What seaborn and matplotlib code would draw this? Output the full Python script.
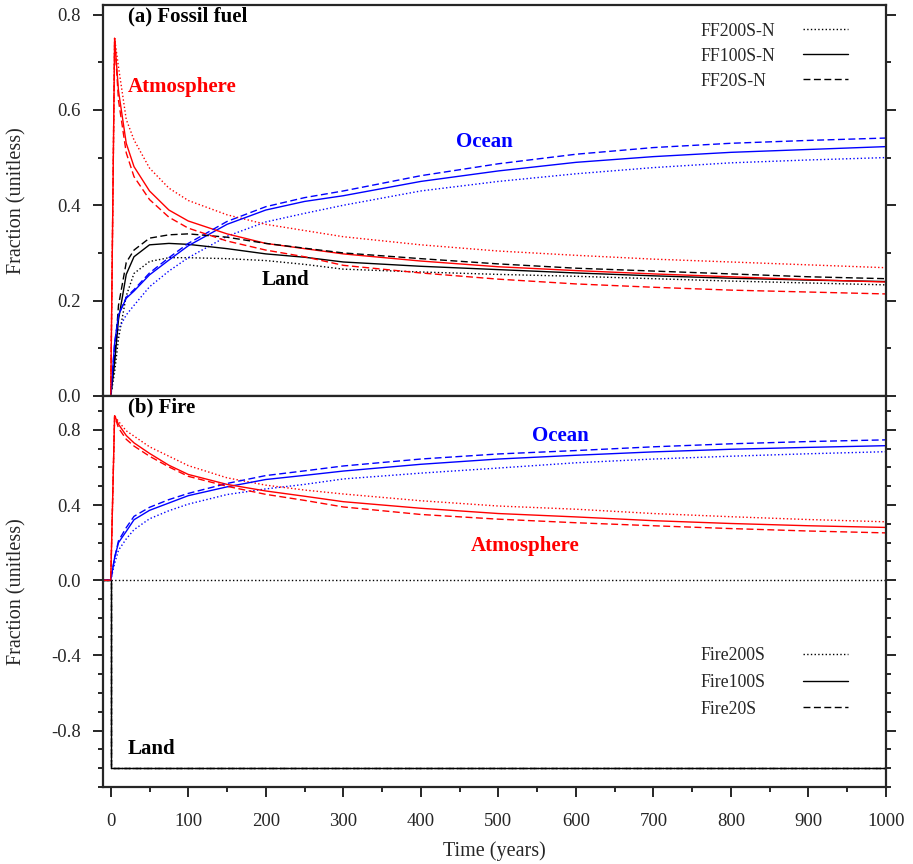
import matplotlib
matplotlib.use("Agg")
import matplotlib.pyplot as plt
import seaborn as sns
from matplotlib.lines import Line2D
from matplotlib.ticker import MultipleLocator, FormatStrFormatter

years = [-10, 0, 5, 10, 20, 30, 50, 75, 100, 150, 200, 250, 300, 400, 500, 600, 700, 800, 900, 1000]

# (a) fossil fuel pulse
ff200_atm = [0, 0, 0.75, 0.69, 0.58, 0.537, 0.478, 0.436, 0.41, 0.38, 0.36, 0.347, 0.334, 0.317, 0.304, 0.295, 0.287, 0.281, 0.275, 0.269]
ff100_atm = [0, 0, 0.75, 0.64, 0.53, 0.481, 0.43, 0.39, 0.367, 0.34, 0.32, 0.309, 0.298, 0.283, 0.271, 0.263, 0.256, 0.25, 0.244, 0.239]
ff20_atm = [0, 0, 0.75, 0.62, 0.51, 0.46, 0.412, 0.375, 0.352, 0.325, 0.306, 0.292, 0.274, 0.258, 0.245, 0.235, 0.228, 0.222, 0.218, 0.214]
ff200_ocn = [0, 0, 0.08, 0.14, 0.17, 0.19, 0.229, 0.262, 0.29, 0.335, 0.365, 0.383, 0.40, 0.43, 0.45, 0.466, 0.479, 0.489, 0.495, 0.50]
ff100_ocn = [0, 0, 0.11, 0.17, 0.205, 0.22, 0.254, 0.285, 0.315, 0.36, 0.39, 0.408, 0.42, 0.45, 0.472, 0.49, 0.502, 0.511, 0.517, 0.523]
ff20_ocn = [0, 0, 0.11, 0.17, 0.207, 0.223, 0.258, 0.29, 0.32, 0.366, 0.397, 0.416, 0.43, 0.462, 0.487, 0.507, 0.521, 0.53, 0.536, 0.541]
ff200_lnd = [0, 0, 0.05, 0.12, 0.21, 0.257, 0.282, 0.29, 0.29, 0.288, 0.284, 0.276, 0.266, 0.26, 0.255, 0.251, 0.246, 0.241, 0.237, 0.233]
ff100_lnd = [0, 0, 0.07, 0.16, 0.255, 0.292, 0.317, 0.32, 0.318, 0.309, 0.298, 0.291, 0.281, 0.272, 0.265, 0.258, 0.252, 0.247, 0.243, 0.24]
ff20_lnd = [0, 0, 0.08, 0.19, 0.28, 0.306, 0.331, 0.338, 0.34, 0.333, 0.32, 0.31, 0.30, 0.288, 0.277, 0.268, 0.262, 0.256, 0.25, 0.246]

# (b) fire pulse
fire200_atm = [0, 0, 0.875, 0.845, 0.795, 0.767, 0.71, 0.66, 0.61, 0.545, 0.506, 0.48, 0.459, 0.423, 0.395, 0.378, 0.355, 0.338, 0.323, 0.311]
fire100_atm = [0, 0, 0.875, 0.83, 0.77, 0.731, 0.675, 0.612, 0.563, 0.51, 0.475, 0.447, 0.418, 0.383, 0.355, 0.337, 0.317, 0.302, 0.29, 0.281]
fire20_atm = [0, 0, 0.875, 0.81, 0.75, 0.714, 0.66, 0.603, 0.553, 0.5, 0.457, 0.425, 0.39, 0.35, 0.325, 0.306, 0.29, 0.275, 0.262, 0.252]
fire200_ocn = [0, 0, 0.09, 0.16, 0.22, 0.269, 0.327, 0.37, 0.405, 0.456, 0.486, 0.51, 0.539, 0.57, 0.597, 0.625, 0.645, 0.66, 0.673, 0.684]
fire100_ocn = [0, 0, 0.12, 0.2, 0.26, 0.322, 0.372, 0.411, 0.45, 0.497, 0.536, 0.558, 0.581, 0.617, 0.645, 0.665, 0.683, 0.697, 0.707, 0.716]
fire20_ocn = [0, 0, 0.12, 0.21, 0.28, 0.34, 0.388, 0.429, 0.462, 0.515, 0.557, 0.582, 0.608, 0.645, 0.672, 0.69, 0.71, 0.726, 0.738, 0.747]
fire_lnd = [0, -1, -1, -1, -1, -1, -1, -1, -1, -1, -1, -1, -1, -1, -1, -1, -1, -1, -1, -1]

ff_labels = ["FF200S-N", "FF100S-N", "FF20S-N"]
fire_labels = ["Fire200S", "Fire100S", "Fire20S"]

sns.set_style("ticks")
plt.rcParams["font.family"] = ["Liberation Serif", "DejaVu Serif"]
plt.rcParams["axes.unicode_minus"] = False

RED = "#ff0000"
BLUE = "#0000ff"
styles = [":", "-", (0, (5, 2.5))]
lw = 1.0

fig = plt.figure(figsize=(9.13, 8.64), dpi=100)
ax1 = fig.add_axes([0.1128, 0.5417, 0.8576, 0.4525])
ax2 = fig.add_axes([0.1128, 0.0891, 0.8576, 0.4525], sharex=ax1)

for ls, atm, ocn, lnd in zip(styles, [ff200_atm, ff100_atm, ff20_atm],
                             [ff200_ocn, ff100_ocn, ff20_ocn],
                             [ff200_lnd, ff100_lnd, ff20_lnd]):
    sns.lineplot(x=years, y=lnd, ax=ax1, color="black", linestyle=ls, linewidth=lw)
    sns.lineplot(x=years, y=ocn, ax=ax1, color=BLUE, linestyle=ls, linewidth=lw)
    sns.lineplot(x=years, y=atm, ax=ax1, color=RED, linestyle=ls, linewidth=lw)

ax2.hlines(0, 0, 1000, colors="black", linestyles=":", linewidth=lw)
for ls, atm, ocn in zip(styles, [fire200_atm, fire100_atm, fire20_atm],
                        [fire200_ocn, fire100_ocn, fire20_ocn]):
    sns.lineplot(x=years, y=fire_lnd, ax=ax2, color="black", linestyle=ls,
                 linewidth=lw, drawstyle="steps-post")
    sns.lineplot(x=years, y=ocn, ax=ax2, color=BLUE, linestyle=ls, linewidth=lw)
    sns.lineplot(x=years, y=atm, ax=ax2, color=RED, linestyle=ls, linewidth=lw)

ax1.set_xlim(-10, 1000)
ax1.set_ylim(0, 0.82)
ax2.set_ylim(-1.1, 0.98)

ax1.yaxis.set_major_locator(MultipleLocator(0.2))
ax1.yaxis.set_minor_locator(MultipleLocator(0.1))
ax2.yaxis.set_major_locator(MultipleLocator(0.4))
ax2.yaxis.set_minor_locator(MultipleLocator(0.1))
ax2.xaxis.set_major_locator(MultipleLocator(100))
ax2.xaxis.set_minor_locator(MultipleLocator(50))
ax1.yaxis.set_major_formatter(FormatStrFormatter("%.1f"))
ax2.yaxis.set_major_formatter(FormatStrFormatter("%.1f"))

for ax in (ax1, ax2):
    for sp in ax.spines.values():
        sp.set_linewidth(1.6)
        sp.set_visible(True)
    ax.tick_params(axis="y", which="both", left=True, right=True, direction="out",
                   width=1.4, labelsize=13.5, pad=9)
    ax.tick_params(axis="y", which="major", length=7)
    ax.tick_params(axis="y", which="minor", length=3.5)
    ax.set_ylabel("Fraction (unitless)", fontsize=14.5)
    ax.yaxis.set_label_coords(-0.098, 0.5)

ax1.tick_params(axis="x", which="both", bottom=False, labelbottom=False)
ax2.tick_params(axis="x", which="both", bottom=True, direction="out", width=1.4,
                labelsize=13.5, pad=12)
ax2.tick_params(axis="x", which="major", length=7)
ax2.tick_params(axis="x", which="minor", length=3.5)
ax2.set_xlabel("Time (years)", fontsize=14.5, labelpad=8)

bold = dict(fontsize=15, fontweight="bold", ha="left", va="center")
ax1.text(22, 0.796, "(a) Fossil fuel", color="black", **bold)
ax1.text(22, 0.647, "Atmosphere", color=RED, **bold)
ax1.text(445, 0.533, "Ocean", color=BLUE, **bold)
ax1.text(194, 0.244, "Land", color="black", **bold)
ax2.text(22, 0.917, "(b) Fire", color="black", **bold)
ax2.text(543, 0.768, "Ocean", color=BLUE, **bold)
ax2.text(465, 0.181, "Atmosphere", color=RED, **bold)
ax2.text(22, -0.896, "Land", color="black", **bold)

# legend: left-aligned names, line samples in a separate column on the right
for ax, labels, top, spacing in ((ax1, ff_labels, 0.955, 0.45), (ax2, fire_labels, 0.358, 0.55)):
    keys = [Line2D([], [], color="black", linestyle=ls, linewidth=lw) for ls in styles]
    blanks = [Line2D([], [], linestyle="none") for _ in styles]
    names = ax.legend(blanks, labels, loc="upper left", bbox_to_anchor=(0.7625, top),
                      frameon=False, fontsize=12.8, handlelength=0, handletextpad=0,
                      labelspacing=spacing, borderpad=0, borderaxespad=0)
    ax.add_artist(names)
    ax.legend(keys, ["", "", ""], loc="upper right", bbox_to_anchor=(0.951, top),
              frameon=False, fontsize=12.8, handlelength=2.5, handletextpad=0,
              markerfirst=False, labelspacing=spacing, borderpad=0, borderaxespad=0)

plt.savefig("out.png", dpi=100)
plt.close()
